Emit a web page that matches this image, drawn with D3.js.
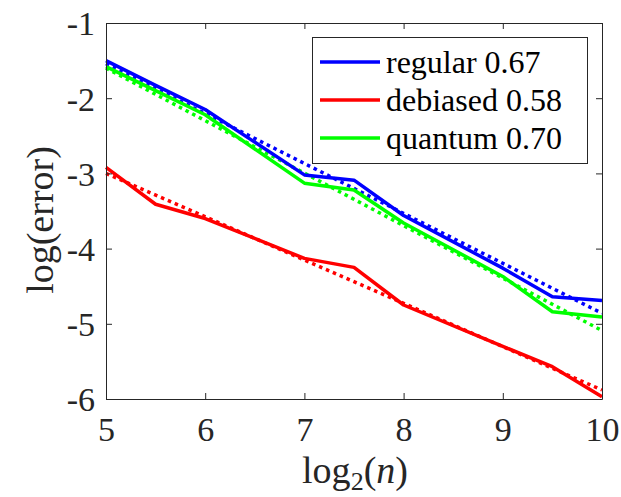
<!DOCTYPE html>
<html><head><meta charset="utf-8">
<script src="https://cdn.jsdelivr.net/npm/d3@7"></script>
<style>body{margin:0;background:#fff}svg{display:block}</style>
</head><body>
<script>
// ---- data ----
const xs = [5, 5.5, 6, 7, 7.5, 8, 9, 9.5, 10];
const regular  = [-1.50, -1.83, -2.15, -3.02, -3.09, -3.56, -4.26, -4.64, -4.69];
const debiased = [-2.92, -3.41, -3.60, -4.13, -4.25, -4.75, -5.30, -5.57, -5.97];
const quantum  = [-1.58, -1.90, -2.22, -3.13, -3.22, -3.66, -4.37, -4.84, -4.91];
const fitX = [5, 10];
const fitRegular  = [-1.54, -4.86];
const fitDebiased = [-3.00, -5.88];
const fitQuantum  = [-1.60, -5.09];
const seriesNames = ["regular 0.67", "debiased 0.58", "quantum 0.70"];
const colors = ["#0000ff", "#ff0000", "#00ff00"];
const xTicks = [5, 6, 7, 8, 9, 10];
const yTicks = [-1, -2, -3, -4, -5, -6];

const W = 621, H = 497;
const m = {l:106, r:19, t:23, b:98};
const font = "'Liberation Serif', serif";

const svg = d3.select("body").append("svg").attr("width", W).attr("height", H);
const x = d3.scaleLinear().domain([5, 10]).range([m.l, W - m.r]);
const y = d3.scaleLinear().domain([-6, -1]).range([H - m.b, m.t]);

const g = svg.append("g");
const line = d3.line().x(d => x(d[0])).y(d => y(d[1]));

const series = [regular, debiased, quantum];
const fits = [fitRegular, fitDebiased, fitQuantum];

fits.forEach((f, i) => {
  g.append("path").datum(fitX.map((xv, j) => [xv, f[j]]))
    .attr("d", line).attr("fill", "none").attr("stroke", colors[i])
    .attr("stroke-width", 3.5).attr("stroke-dasharray", "3.5,4");
});
series.forEach((s, i) => {
  g.append("path").datum(xs.map((xv, j) => [xv, s[j]]))
    .attr("d", line).attr("fill", "none").attr("stroke", colors[i])
    .attr("stroke-width", 3.5).attr("stroke-linejoin", "round");
});

const axCol = "#262626";
const tl = 6;
const axB = svg.append("g").attr("transform", `translate(0,${H - m.b})`)
  .call(d3.axisBottom(x).tickValues(xTicks).tickSizeInner(-tl).tickSizeOuter(0).tickFormat(d3.format("d")));
const axT = svg.append("g").attr("transform", `translate(0,${m.t})`)
  .call(d3.axisTop(x).tickValues(xTicks).tickSizeInner(-tl).tickSizeOuter(0).tickFormat(""));
const axL = svg.append("g").attr("transform", `translate(${m.l},0)`)
  .call(d3.axisLeft(y).tickValues(yTicks).tickSizeInner(-tl).tickSizeOuter(0).tickFormat(d => String(d)));
const axR = svg.append("g").attr("transform", `translate(${W - m.r},0)`)
  .call(d3.axisRight(y).tickValues(yTicks).tickSizeInner(-tl).tickSizeOuter(0).tickFormat(""));
[axB, axT, axL, axR].forEach(a => {
  a.selectAll("path,line").attr("stroke", axCol).attr("stroke-width", 1);
  a.selectAll("text").attr("fill", "#262626").style("font-family", font).style("font-size", "34px");
});
axB.selectAll("text").attr("y", 42).attr("dy", 0);
axL.selectAll("text").attr("x", -11).attr("dy", "0.35em");

svg.append("text").attr("x", 355).attr("y", 483).attr("text-anchor", "middle")
  .style("font-family", font).style("font-size", "38px").attr("fill", "#262626")
  .html("log<tspan dy='7' font-size='26'>2</tspan><tspan dy='-7'>(</tspan><tspan font-style='italic'>n</tspan>)");
svg.append("text").attr("transform", "translate(53,220) rotate(-90)").attr("text-anchor", "middle")
  .style("font-family", font).style("font-size", "38px").attr("fill", "#262626")
  .text("log(error)");

const lg = svg.append("g");
lg.append("rect").attr("x", 312.5).attr("y", 37.5).attr("width", 275).attr("height", 126)
  .attr("fill", "#fff").attr("stroke", axCol).attr("stroke-width", 1);
seriesNames.forEach((nm, i) => {
  const yy = 62 + i * 38;
  lg.append("line").attr("x1", 320).attr("x2", 380).attr("y1", yy).attr("y2", yy)
    .attr("stroke", colors[i]).attr("stroke-width", 3.5);
  lg.append("text").attr("x", 386).attr("y", yy).attr("dy", "0.33em")
    .style("font-family", font).style("font-size", "32px").attr("fill", "#000").text(nm);
});
</script>
</body></html>
